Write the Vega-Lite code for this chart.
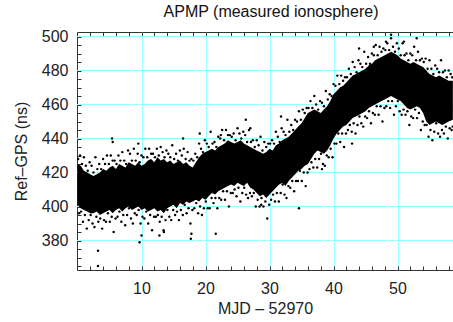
{
"$schema": "https://vega.github.io/schema/vega-lite/v6.json",
"width": 376, "height": 238,
"autosize": "none",
"padding": {"left": 77, "top": 32, "right": 0, "bottom": 52},
"background": "white",
"config": {"view": {"stroke": "#333", "strokeWidth": 1}, "font": "Liberation Sans"},
"title": {"text": "APMP (measured ionosphere)", "fontSize": 16, "fontWeight": "normal", "color": "#111", "offset": 9, "dx": 6, "font": "Liberation Sans"},
"datasets": {
"grid": [{"g":380},{"g":400},{"g":420},{"g":440},{"g":460},{"g":480},{"g":500}],
"band": [
{"d":0,"lo":401,"hi":425},{"d":0.5,"lo":399,"hi":424},{"d":1,"lo":398,"hi":421},{"d":1.5,"lo":397,"hi":420},{"d":2,"lo":396,"hi":419},{"d":2.5,"lo":396,"hi":418},{"d":3,"lo":397,"hi":419},{"d":3.5,"lo":395,"hi":420},{"d":4,"lo":396,"hi":422},{"d":4.5,"lo":397,"hi":421},{"d":5,"lo":398,"hi":423},{"d":5.5,"lo":396,"hi":424},{"d":6,"lo":398,"hi":422},{"d":6.5,"lo":399,"hi":425},{"d":7,"lo":397,"hi":424},{"d":7.5,"lo":399,"hi":423},{"d":8,"lo":400,"hi":426},{"d":8.5,"lo":398,"hi":425},{"d":9,"lo":399,"hi":424},{"d":9.5,"lo":400,"hi":426},{"d":10,"lo":398,"hi":424},{"d":10.5,"lo":399,"hi":425},{"d":11,"lo":397,"hi":427},{"d":11.5,"lo":398,"hi":428},{"d":12,"lo":399,"hi":426},{"d":12.5,"lo":397,"hi":429},{"d":13,"lo":398,"hi":427},{"d":13.5,"lo":396,"hi":428},{"d":14,"lo":399,"hi":426},{"d":14.5,"lo":400,"hi":427},{"d":15,"lo":401,"hi":425},{"d":15.5,"lo":399,"hi":426},{"d":16,"lo":402,"hi":427},{"d":16.5,"lo":401,"hi":425},{"d":17,"lo":403,"hi":426},{"d":17.5,"lo":402,"hi":424},{"d":18,"lo":403,"hi":423},{"d":18.5,"lo":404,"hi":426},{"d":19,"lo":403,"hi":429},{"d":19.5,"lo":405,"hi":431},{"d":20,"lo":404,"hi":432},{"d":20.5,"lo":406,"hi":433},{"d":21,"lo":408,"hi":434},{"d":21.5,"lo":407,"hi":433},{"d":22,"lo":409,"hi":435},{"d":22.5,"lo":410,"hi":436},{"d":23,"lo":411,"hi":437},{"d":23.5,"lo":412,"hi":439},{"d":24,"lo":413,"hi":438},{"d":24.5,"lo":412,"hi":437},{"d":25,"lo":414,"hi":438},{"d":25.5,"lo":413,"hi":439},{"d":26,"lo":412,"hi":437},{"d":26.5,"lo":414,"hi":436},{"d":27,"lo":411,"hi":435},{"d":27.5,"lo":410,"hi":434},{"d":28,"lo":408,"hi":433},{"d":28.5,"lo":406,"hi":432},{"d":29,"lo":407,"hi":431},{"d":29.5,"lo":405,"hi":432},{"d":30,"lo":407,"hi":434},{"d":30.5,"lo":409,"hi":433},{"d":31,"lo":411,"hi":436},{"d":31.5,"lo":413,"hi":437},{"d":32,"lo":414,"hi":439},{"d":32.5,"lo":412,"hi":440},{"d":33,"lo":415,"hi":441},{"d":33.5,"lo":417,"hi":443},{"d":34,"lo":419,"hi":445},{"d":34.5,"lo":421,"hi":447},{"d":35,"lo":422,"hi":449},{"d":35.5,"lo":424,"hi":452},{"d":36,"lo":425,"hi":455},{"d":36.5,"lo":428,"hi":456},{"d":37,"lo":431,"hi":457},{"d":37.5,"lo":433,"hi":456},{"d":38,"lo":432,"hi":455},{"d":38.5,"lo":431,"hi":457},{"d":39,"lo":433,"hi":459},{"d":39.5,"lo":436,"hi":462},{"d":40,"lo":440,"hi":466},{"d":40.5,"lo":443,"hi":468},{"d":41,"lo":445,"hi":470},{"d":41.5,"lo":447,"hi":471},{"d":42,"lo":448,"hi":473},{"d":42.5,"lo":450,"hi":475},{"d":43,"lo":452,"hi":477},{"d":43.5,"lo":453,"hi":478},{"d":44,"lo":454,"hi":479},{"d":44.5,"lo":455,"hi":480},{"d":45,"lo":456,"hi":481},{"d":45.5,"lo":458,"hi":483},{"d":46,"lo":459,"hi":484},{"d":46.5,"lo":460,"hi":486},{"d":47,"lo":461,"hi":487},{"d":47.5,"lo":462,"hi":488},{"d":48,"lo":463,"hi":489},{"d":48.5,"lo":464,"hi":490},{"d":49,"lo":465,"hi":491},{"d":49.5,"lo":464,"hi":490},{"d":50,"lo":463,"hi":489},{"d":50.5,"lo":462,"hi":487},{"d":51,"lo":460,"hi":486},{"d":51.5,"lo":458,"hi":485},{"d":52,"lo":457,"hi":484},{"d":52.5,"lo":458,"hi":485},{"d":53,"lo":459,"hi":484},{"d":53.5,"lo":458,"hi":483},{"d":54,"lo":455,"hi":482},{"d":54.5,"lo":450,"hi":480},{"d":55,"lo":448,"hi":478},{"d":55.5,"lo":449,"hi":477},{"d":56,"lo":450,"hi":476},{"d":56.5,"lo":449,"hi":477},{"d":57,"lo":448,"hi":476},{"d":57.5,"lo":449,"hi":475},{"d":58,"lo":450,"hi":474},{"d":58.65,"lo":451,"hi":474}
],
"pts": [
{"d":0.1,"v":428},{"d":0.25,"v":396},{"d":0.4,"v":430},{"d":0.55,"v":397},{"d":0.7,"v":425},{"d":0.85,"v":391},{"d":1.0,"v":429},{"d":1.15,"v":395},{"d":1.3,"v":424},{"d":1.45,"v":387},{"d":1.6,"v":421},{"d":1.75,"v":392},{"d":1.9,"v":426},{"d":2.05,"v":395},{"d":2.2,"v":424},{"d":2.35,"v":390},{"d":2.5,"v":420},{"d":2.65,"v":388},{"d":2.8,"v":429},{"d":2.95,"v":394},
{"d":3.1,"v":422},{"d":3.25,"v":391},{"d":3.4,"v":425},{"d":3.55,"v":393},{"d":3.7,"v":422},{"d":3.85,"v":387},{"d":4.0,"v":428},{"d":4.15,"v":392},{"d":4.3,"v":425},{"d":4.45,"v":391},{"d":4.6,"v":430},{"d":4.75,"v":396},{"d":4.9,"v":425},{"d":5.05,"v":391},{"d":5.2,"v":430},{"d":5.35,"v":394},{"d":5.5,"v":427},{"d":5.65,"v":385},{"d":5.8,"v":427},{"d":5.95,"v":393},
{"d":6.1,"v":425},{"d":6.25,"v":394},{"d":6.4,"v":430},{"d":6.55,"v":397},{"d":6.7,"v":427},{"d":6.85,"v":391},{"d":7.0,"v":432},{"d":7.15,"v":395},{"d":7.3,"v":427},{"d":7.45,"v":389},{"d":7.6,"v":425},{"d":7.75,"v":395},{"d":7.9,"v":433},{"d":8.05,"v":399},{"d":8.2,"v":431},{"d":8.35,"v":393},{"d":8.5,"v":427},{"d":8.65,"v":390},{"d":8.8,"v":434},{"d":8.95,"v":396},
{"d":9.1,"v":427},{"d":9.25,"v":395},{"d":9.4,"v":431},{"d":9.55,"v":398},{"d":9.7,"v":426},{"d":9.85,"v":390},{"d":10.0,"v":430},{"d":10.15,"v":394},{"d":10.3,"v":429},{"d":10.45,"v":393},{"d":10.6,"v":434},{"d":10.75,"v":397},{"d":10.9,"v":429},{"d":11.05,"v":390},{"d":11.2,"v":434},{"d":11.35,"v":395},{"d":11.5,"v":431},{"d":11.65,"v":386},{"d":11.8,"v":431},{"d":11.95,"v":394},
{"d":12.1,"v":429},{"d":12.25,"v":394},{"d":12.4,"v":434},{"d":12.55,"v":395},{"d":12.7,"v":430},{"d":12.85,"v":391},{"d":13.0,"v":435},{"d":13.15,"v":394},{"d":13.3,"v":432},{"d":13.45,"v":386},{"d":13.6,"v":429},{"d":13.75,"v":392},{"d":13.9,"v":433},{"d":14.05,"v":398},{"d":14.2,"v":431},{"d":14.35,"v":394},{"d":14.5,"v":429},{"d":14.65,"v":392},{"d":14.8,"v":436},{"d":14.95,"v":398},
{"d":15.1,"v":428},{"d":15.25,"v":395},{"d":15.4,"v":431},{"d":15.55,"v":397},{"d":15.7,"v":427},{"d":15.85,"v":392},{"d":16.0,"v":433},{"d":16.15,"v":398},{"d":16.3,"v":430},{"d":16.45,"v":395},{"d":16.6,"v":434},{"d":16.75,"v":401},{"d":16.9,"v":428},{"d":17.05,"v":396},{"d":17.2,"v":432},{"d":17.35,"v":399},{"d":17.5,"v":427},{"d":17.65,"v":390},{"d":17.8,"v":428},{"d":17.95,"v":398},
{"d":18.1,"v":427},{"d":18.25,"v":399},{"d":18.4,"v":431},{"d":18.55,"v":402},{"d":18.7,"v":429},{"d":18.85,"v":396},{"d":19.0,"v":437},{"d":19.15,"v":400},{"d":19.3,"v":434},{"d":19.45,"v":395},{"d":19.6,"v":432},{"d":19.75,"v":399},{"d":19.9,"v":439},{"d":20.05,"v":403},{"d":20.2,"v":437},{"d":20.35,"v":399},{"d":20.5,"v":435},{"d":20.65,"v":399},{"d":20.8,"v":444},{"d":20.95,"v":405},
{"d":21.1,"v":437},{"d":21.25,"v":402},{"d":21.4,"v":438},{"d":21.55,"v":405},{"d":21.7,"v":435},{"d":21.85,"v":399},{"d":22.0,"v":441},{"d":22.15,"v":405},{"d":22.3,"v":440},{"d":22.45,"v":404},{"d":22.6,"v":445},{"d":22.75,"v":409},{"d":22.9,"v":439},{"d":23.05,"v":404},{"d":23.2,"v":445},{"d":23.35,"v":409},{"d":23.5,"v":442},{"d":23.65,"v":400},{"d":23.8,"v":442},{"d":23.95,"v":408},
{"d":24.1,"v":441},{"d":24.25,"v":408},{"d":24.4,"v":443},{"d":24.55,"v":410},{"d":24.7,"v":439},{"d":24.85,"v":406},{"d":25.0,"v":446},{"d":25.15,"v":411},{"d":25.3,"v":443},{"d":25.45,"v":403},{"d":25.6,"v":440},{"d":25.75,"v":408},{"d":25.9,"v":444},{"d":26.05,"v":411},{"d":26.2,"v":442},{"d":26.35,"v":407},{"d":26.5,"v":438},{"d":26.65,"v":405},{"d":26.8,"v":445},{"d":26.95,"v":408},
{"d":27.1,"v":438},{"d":27.25,"v":406},{"d":27.4,"v":439},{"d":27.55,"v":408},{"d":27.7,"v":435},{"d":27.85,"v":400},{"d":28.0,"v":439},{"d":28.15,"v":404},{"d":28.3,"v":436},{"d":28.45,"v":400},{"d":28.6,"v":441},{"d":28.75,"v":405},{"d":28.9,"v":433},{"d":29.05,"v":400},{"d":29.2,"v":438},{"d":29.35,"v":403},{"d":29.5,"v":435},{"d":29.65,"v":393},{"d":29.8,"v":437},{"d":29.95,"v":401},
{"d":30.1,"v":437},{"d":30.25,"v":404},{"d":30.4,"v":439},{"d":30.55,"v":407},{"d":30.7,"v":437},{"d":30.85,"v":403},{"d":31.0,"v":444},{"d":31.15,"v":408},{"d":31.3,"v":441},{"d":31.45,"v":403},{"d":31.6,"v":438},{"d":31.75,"v":408},{"d":31.9,"v":446},{"d":32.05,"v":413},{"d":32.2,"v":444},{"d":32.35,"v":407},{"d":32.5,"v":442},{"d":32.65,"v":405},{"d":32.8,"v":451},{"d":32.95,"v":412},
{"d":33.1,"v":444},{"d":33.25,"v":411},{"d":33.4,"v":448},{"d":33.55,"v":415},{"d":33.7,"v":445},{"d":33.85,"v":409},{"d":34.0,"v":451},{"d":34.15,"v":415},{"d":34.3,"v":450},{"d":34.45,"v":415},{"d":34.6,"v":456},{"d":34.75,"v":421},{"d":34.9,"v":451},{"d":35.05,"v":415},{"d":35.2,"v":457},{"d":35.35,"v":420},{"d":35.5,"v":455},{"d":35.65,"v":412},{"d":35.8,"v":458},{"d":35.95,"v":420},
{"d":36.1,"v":458},{"d":36.25,"v":422},{"d":36.4,"v":462},{"d":36.55,"v":426},{"d":36.7,"v":458},{"d":36.85,"v":423},{"d":37.0,"v":465},{"d":37.15,"v":428},{"d":37.3,"v":460},{"d":37.45,"v":423},{"d":37.6,"v":457},{"d":37.75,"v":428},{"d":37.9,"v":462},{"d":38.05,"v":431},{"d":38.2,"v":461},{"d":38.35,"v":425},{"d":38.5,"v":459},{"d":38.65,"v":424},{"d":38.8,"v":468},{"d":38.95,"v":430},
{"d":39.1,"v":463},{"d":39.25,"v":429},{"d":39.4,"v":466},{"d":39.55,"v":434},{"d":39.7,"v":465},{"d":39.85,"v":429},{"d":40.0,"v":472},{"d":40.15,"v":437},{"d":40.3,"v":471},{"d":40.45,"v":437},{"d":40.6,"v":477},{"d":40.75,"v":443},{"d":40.9,"v":472},{"d":41.05,"v":438},{"d":41.2,"v":477},{"d":41.35,"v":443},{"d":41.5,"v":474},{"d":41.65,"v":435},{"d":41.8,"v":476},{"d":41.95,"v":443},
{"d":42.1,"v":476},{"d":42.25,"v":445},{"d":42.4,"v":481},{"d":42.55,"v":448},{"d":42.7,"v":478},{"d":42.85,"v":444},{"d":43.0,"v":485},{"d":43.15,"v":449},{"d":43.3,"v":482},{"d":43.45,"v":443},{"d":43.6,"v":479},{"d":43.75,"v":448},{"d":43.9,"v":486},{"d":44.05,"v":453},{"d":44.2,"v":484},{"d":44.35,"v":449},{"d":44.5,"v":482},{"d":44.65,"v":447},{"d":44.8,"v":491},{"d":44.95,"v":453},
{"d":45.1,"v":484},{"d":45.25,"v":452},{"d":45.4,"v":488},{"d":45.55,"v":456},{"d":45.7,"v":484},{"d":45.85,"v":449},{"d":46.0,"v":490},{"d":46.15,"v":455},{"d":46.3,"v":489},{"d":46.45,"v":454},{"d":46.6,"v":495},{"d":46.75,"v":459},{"d":46.9,"v":489},{"d":47.05,"v":454},{"d":47.2,"v":494},{"d":47.35,"v":459},{"d":47.5,"v":491},{"d":47.65,"v":450},{"d":47.8,"v":493},{"d":47.95,"v":458},
{"d":48.1,"v":492},{"d":48.25,"v":459},{"d":48.4,"v":496},{"d":48.55,"v":462},{"d":48.7,"v":492},{"d":48.85,"v":458},{"d":49.0,"v":499},{"d":49.15,"v":462},{"d":49.3,"v":494},{"d":49.45,"v":454},{"d":49.6,"v":491},{"d":49.75,"v":459},{"d":49.9,"v":496},{"d":50.05,"v":462},{"d":50.2,"v":493},{"d":50.35,"v":456},{"d":50.5,"v":489},{"d":50.65,"v":454},{"d":50.8,"v":496},{"d":50.95,"v":457},
{"d":51.1,"v":489},{"d":51.25,"v":454},{"d":51.4,"v":490},{"d":51.55,"v":456},{"d":51.7,"v":486},{"d":51.85,"v":448},{"d":52.0,"v":490},{"d":52.15,"v":453},{"d":52.3,"v":489},{"d":52.45,"v":452},{"d":52.6,"v":494},{"d":52.75,"v":457},{"d":52.9,"v":486},{"d":53.05,"v":452},{"d":53.2,"v":491},{"d":53.35,"v":455},{"d":53.5,"v":486},{"d":53.65,"v":445},{"d":53.8,"v":487},{"d":53.95,"v":450},
{"d":54.1,"v":485},{"d":54.25,"v":448},{"d":54.4,"v":487},{"d":54.55,"v":448},{"d":54.7,"v":481},{"d":54.85,"v":441},{"d":55.0,"v":486},{"d":55.15,"v":445},{"d":55.3,"v":481},{"d":55.45,"v":439},{"d":55.6,"v":478},{"d":55.75,"v":444},{"d":55.9,"v":483},{"d":56.05,"v":449},{"d":56.2,"v":481},{"d":56.35,"v":443},{"d":56.5,"v":479},{"d":56.65,"v":441},{"d":56.8,"v":486},{"d":56.95,"v":445},
{"d":57.1,"v":479},{"d":57.25,"v":443},{"d":57.4,"v":480},{"d":57.55,"v":447},{"d":57.7,"v":476},{"d":57.85,"v":440},{"d":58.0,"v":480},{"d":58.15,"v":446},{"d":58.3,"v":478},{"d":58.45,"v":445},{"d":58.55,"v":476},{"d":58.62,"v":447},
{"d":3.2,"v":374},{"d":3.2,"v":365},{"d":5.5,"v":438},{"d":5.4,"v":440},{"d":9.7,"v":379},{"d":10.0,"v":383},{"d":12.8,"v":383},{"d":13.5,"v":385},{"d":17.7,"v":381},{"d":17.8,"v":384},{"d":21.6,"v":384},{"d":19.1,"v":443},{"d":22.4,"v":442},{"d":26.3,"v":451},{"d":31.8,"v":453},{"d":34.6,"v":399},{"d":28.7,"v":401},{"d":38.2,"v":422},{"d":42.9,"v":437},{"d":44.0,"v":493},{"d":46.3,"v":494},{"d":48.2,"v":497},{"d":49.0,"v":501},{"d":51.0,"v":497},{"d":53.0,"v":499},{"d":9.5,"v":437},{"d":16.5,"v":440},{"d":27.0,"v":446}
]
},
"layer": [
{
"data": {"name": "grid"},
"mark": {"type": "rule", "color": "#99ffff", "strokeWidth": 1},
"encoding": {
"y": {"field": "g", "type": "quantitative", "axis": null}
}
},
{
"data": {"name": "band"},
"mark": {"type": "area", "color": "black", "interpolate": "linear"},
"encoding": {
"x": {"field": "d", "type": "quantitative", "scale": {"domain": [-0.078125, 58.671875], "nice": false, "zero": false},
"axis": {"orient": "bottom", "title": "MJD – 52970", "values": [2,4,6,8,10,12,14,16,18,20,22,24,26,28,30,32,34,36,38,40,42,44,46,48,50,52,54,56,58],
"labelExpr": "datum.value % 10 === 0 ? datum.label : ''", "labelOverlap": false, "domain": false, "tickSize": -4, "tickColor": "#333", "labelPadding": 14, "labelFontSize": 16, "labelColor": "#222", "labelFont": "Liberation Sans",
"grid": true, "gridColor": "#99ffff", "gridOpacity": {"condition": {"test": "datum.value % 10 === 0", "value": 1}, "value": 0},
"titleFontSize": 16, "titleFontWeight": "normal", "titleColor": "#222", "titleFont": "Liberation Sans", "titlePadding": 4}},
"y": {"field": "lo", "type": "quantitative", "title": "Ref–GPS (ns)", "scale": {"domain": [362.6471, 502.6471], "nice": false, "zero": false},
"axis": {"orient": "left", "title": "Ref–GPS (ns)", "values": [365,370,375,380,385,390,395,400,405,410,415,420,425,430,435,440,445,450,455,460,465,470,475,480,485,490,495,500],
"labelExpr": "datum.value % 20 === 0 ? datum.label : ''", "labelOverlap": false, "domain": false, "tickSize": -4, "tickColor": "#333", "labelPadding": 13, "labelFontSize": 16, "labelColor": "#222", "labelFont": "Liberation Sans",
"grid": false,
"titleFontSize": 16, "titleFontWeight": "normal", "titleColor": "#222", "titleFont": "Liberation Sans", "titlePadding": 12}},
"y2": {"field": "hi"}
}
},
{
"data": {"name": "pts"},
"mark": {"type": "circle", "color": "black", "size": 6, "opacity": 1},
"encoding": {
"x": {"field": "d", "type": "quantitative",
"axis": {"orient": "top", "title": null, "labels": false, "grid": false, "domain": false, "tickSize": -4, "tickColor": "#333",
"values": [2,4,6,8,10,12,14,16,18,20,22,24,26,28,30,32,34,36,38,40,42,44,46,48,50,52,54,56,58]}},
"y": {"field": "v", "type": "quantitative", "axis": null}
}
}
],
"resolve": {"axis": {"x": "independent", "y": "independent"}}
}
